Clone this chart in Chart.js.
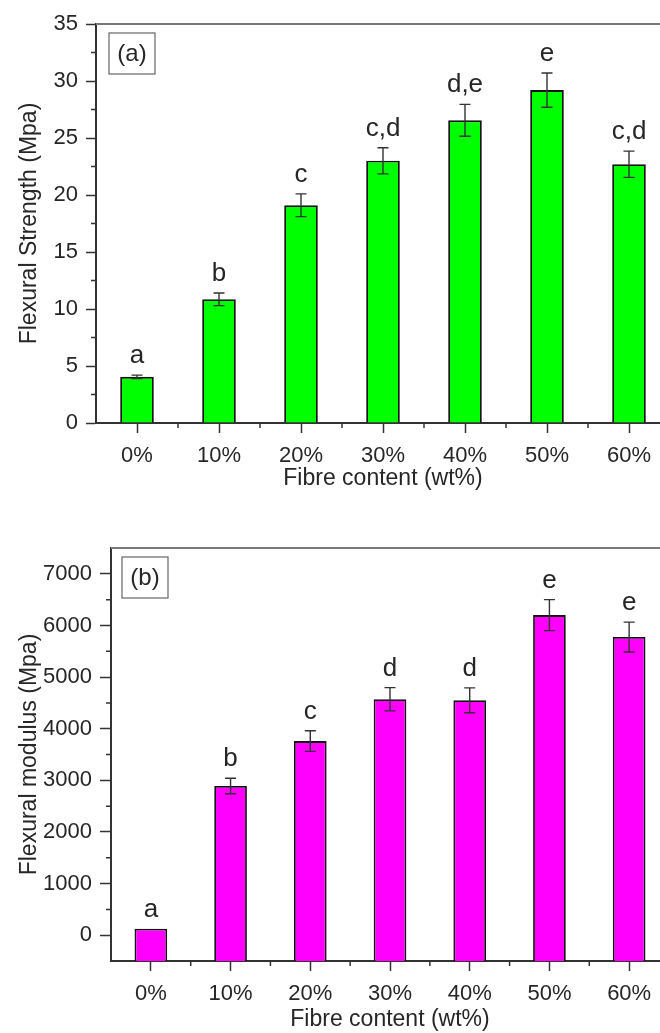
<!DOCTYPE html>
<html>
<head>
<meta charset="utf-8">
<script src="https://cdn.jsdelivr.net/npm/chart.js@4.4.0/dist/chart.umd.min.js"></script>
<style>
  html, body { margin: 0; padding: 0; overflow: hidden; background: #fff; }
  canvas { display: block; }
</style>
</head>
<body>
<canvas id="strengthChart" width="672" height="500"></canvas>
<canvas id="modulusChart" width="672" height="533"></canvas>
<script>
// data
const categories = ['0%', '10%', '20%', '30%', '40%', '50%', '60%'];

const strength = [4.05, 10.85, 19.1, 23.0, 26.55, 29.2, 22.7];
const strengthErr = [0.15, 0.55, 1.0, 1.15, 1.4, 1.5, 1.15];
const strengthGroups = ['a', 'b', 'c', 'c,d', 'd,e', 'e', 'c,d'];
const strengthTicks = [0, 5, 10, 15, 20, 25, 30, 35];

const modulus = [125, 2890, 3760, 4570, 4550, 6200, 5775];
const modulusErr = [0, 150, 200, 225, 240, 300, 290];
const modulusGroups = ['a', 'b', 'c', 'd', 'd', 'e', 'e'];
const modulusTicks = [0, 1000, 2000, 3000, 4000, 5000, 6000, 7000];

const FONT = '"Liberation Sans", Arial, sans-serif';
const INK = '#262626';
const AXIS = '#333';

// error bars, group letters, minor ticks, top frame line and panel tag
const decor = {
    id: 'decor',
    beforeDatasetsDraw(chart, args, opts) {
        const ctx = chart.ctx;
        const area = chart.chartArea;
        const x = chart.scales.x, y = chart.scales.y;
        ctx.save();
        ctx.strokeStyle = AXIS;
        ctx.lineWidth = 1.5;
        ctx.beginPath();
        // minor y ticks halfway between major ones
        for (let i = 0; i < y.ticks.length - 1; i++) {
            const py = y.getPixelForValue((y.ticks[i].value + y.ticks[i + 1].value) / 2);
            ctx.moveTo(area.left, py);
            ctx.lineTo(area.left - 5, py);
        }
        // minor x ticks at category borders
        for (let i = 0; i < categories.length; i++) {
            const px = x.getPixelForValue(i + 0.5);
            ctx.moveTo(px, area.bottom);
            ctx.lineTo(px, area.bottom + 5);
        }
        ctx.stroke();

        ctx.strokeStyle = '#7a7a7a';
        ctx.lineWidth = 2;
        ctx.beginPath();
        ctx.moveTo(area.left, area.top);
        ctx.lineTo(area.right, area.top);
        ctx.stroke();

        // panel tag box
        const bx = area.left + opts.tagX, by = area.top + 9;
        ctx.strokeStyle = '#666';
        ctx.lineWidth = 1.2;
        ctx.strokeRect(bx, by, 46, 41);
        ctx.fillStyle = INK;
        ctx.font = '24px ' + FONT;
        ctx.textAlign = 'center';
        ctx.textBaseline = 'middle';
        ctx.fillText(opts.tag, bx + 23, by + 21);
        ctx.restore();
    },
    afterDatasetsDraw(chart, args, opts) {
        const ctx = chart.ctx;
        const y = chart.scales.y;
        const values = chart.data.datasets[0].data;
        const meta = chart.getDatasetMeta(0);
        ctx.save();
        ctx.strokeStyle = AXIS;
        ctx.lineWidth = 1.4;
        ctx.fillStyle = INK;
        ctx.font = '26px ' + FONT;
        ctx.textAlign = 'center';
        ctx.textBaseline = 'alphabetic';
        meta.data.forEach((bar, i) => {
            const e = opts.errors[i];
            const top = y.getPixelForValue(values[i] + e);
            const bot = y.getPixelForValue(values[i] - e);
            if (e > 0) {
                ctx.beginPath();
                ctx.moveTo(bar.x, top); ctx.lineTo(bar.x, bot);
                ctx.moveTo(bar.x - 5.5, top); ctx.lineTo(bar.x + 5.5, top);
                ctx.moveTo(bar.x - 5.5, bot); ctx.lineTo(bar.x + 5.5, bot);
                ctx.stroke();
            }
            ctx.fillText(opts.groups[i], bar.x, top - 12);
        });
        ctx.restore();
    }
};

function makeChart(id, cfg) {
    return new Chart(document.getElementById(id), {
        type: 'bar',
        data: {
            labels: categories,
            datasets: [{
                data: cfg.values,
                base: cfg.min,
                backgroundColor: cfg.color,
                borderColor: '#111',
                borderWidth: 1.8,
                categoryPercentage: 1,
                barPercentage: 0.41
            }]
        },
        options: {
            responsive: false,
            animation: false,
            layout: { padding: { top: cfg.padTop, right: cfg.padRight, left: 0, bottom: 0 } },
            plugins: {
                legend: { display: false },
                tooltip: { enabled: false },
                decor: { errors: cfg.errors, groups: cfg.groups, tag: cfg.tag, tagX: cfg.tagX }
            },
            scales: {
                x: {
                    offset: true,
                    grid: { offset: false, drawOnChartArea: false, tickLength: 10, tickColor: AXIS, tickWidth: 1.5 },
                    border: { color: AXIS, width: 2 },
                    ticks: { color: INK, padding: 10, font: { family: FONT, size: 22 } },
                    title: {
                        display: true, text: 'Fibre content (wt%)', color: INK,
                        font: { family: FONT, size: 23 }, padding: { top: 0, bottom: cfg.xTitlePad }
                    },
                    afterFit: s => { s.height = cfg.xHeight; }
                },
                y: {
                    min: cfg.min,
                    max: cfg.max,
                    afterBuildTicks: s => { s.ticks = cfg.ticks.map(v => ({ value: v })); },
                    grid: { drawOnChartArea: false, tickLength: cfg.tickLen, tickColor: AXIS, tickWidth: 1.5 },
                    border: { color: AXIS, width: 2 },
                    ticks: {
                        color: INK, padding: 8, font: { family: FONT, size: 22 },
                        callback: v => String(v)
                    },
                    title: {
                        display: true, text: cfg.yTitle, color: INK,
                        font: { family: FONT, size: 23 }, padding: { top: 16, bottom: 0 }
                    },
                    afterFit: s => { s.width = cfg.yWidth; }
                }
            }
        },
        plugins: [decor]
    });
}

makeChart('strengthChart', {
    values: strength, errors: strengthErr, groups: strengthGroups, ticks: strengthTicks,
    min: 0, max: 35, color: '#00ff00', tag: '(a)', tagX: 13,
    yTitle: 'Flexural Strength (Mpa)',
    padTop: 24, padRight: 2, yWidth: 96, xHeight: 77, xTitlePad: 8, tickLen: 10
});

makeChart('modulusChart', {
    values: modulus, errors: modulusErr, groups: modulusGroups, ticks: modulusTicks,
    min: -500, max: 7500, color: '#ff00ff', tag: '(b)', tagX: 11,
    yTitle: 'Flexural modulus (Mpa)',
    padTop: 48, padRight: 3, yWidth: 111, xHeight: 72, xTitlePad: 0, tickLen: 11
});
</script>
</body>
</html>
